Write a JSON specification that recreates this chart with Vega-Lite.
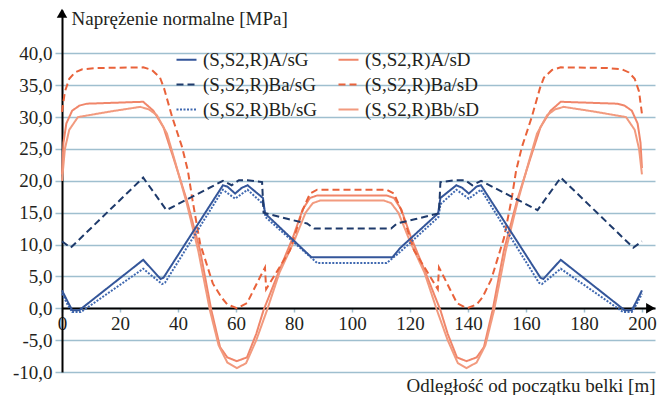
{
  "$schema": "https://vega.github.io/schema/vega-lite/v6.json",
  "width": 593,
  "height": 362,
  "autosize": {"type": "none"},
  "padding": {"left": 62, "top": 10, "right": 2, "bottom": 23},
  "config": {
    "locale": {"number": {"decimal": ",", "thousands": " ", "grouping": [3], "currency": ["", " zł"], "minus": "-"}},
    "view": {"stroke": null},
    "font": "Liberation Serif",
    "axis": {"labelOverlap": false, "labelFlush": false},
    "legend": {
      "orient": "none",
      "legendX": 113,
      "legendY": 38,
      "columns": 2,
      "symbolType": "stroke",
      "symbolSize": 400,
      "symbolStrokeWidth": 2.2,
      "labelFont": "Liberation Serif",
      "labelFontSize": 19,
      "labelColor": "#231f20",
      "labelOffset": 5,
      "rowPadding": 3,
      "columnPadding": 16,
      "labelLimit": 200
    }
  },
  "datasets": {
    "arrowUp": [{"x": 0, "y": 46.3}],
    "arrowRight": [{"x": 203, "y": 0}],
    "series": [
      {"s": "(S,S2,R)A/sD", "x": 0, "y": 21}, {"s": "(S,S2,R)A/sD", "x": 0.5, "y": 26}, {"s": "(S,S2,R)A/sD", "x": 1.5, "y": 29}, {"s": "(S,S2,R)A/sD", "x": 3.5, "y": 31}, {"s": "(S,S2,R)A/sD", "x": 6, "y": 31.8}, {"s": "(S,S2,R)A/sD", "x": 8.6, "y": 32.1}, {"s": "(S,S2,R)A/sD", "x": 28, "y": 32.4}, {"s": "(S,S2,R)A/sD", "x": 31.5, "y": 31}, {"s": "(S,S2,R)A/sD", "x": 35, "y": 28.4}, {"s": "(S,S2,R)A/sD", "x": 38.5, "y": 23.5}, {"s": "(S,S2,R)A/sD", "x": 43, "y": 17}, {"s": "(S,S2,R)A/sD", "x": 47.6, "y": 9.1}, {"s": "(S,S2,R)A/sD", "x": 51.5, "y": -0.3}, {"s": "(S,S2,R)A/sD", "x": 54.5, "y": -6.1}, {"s": "(S,S2,R)A/sD", "x": 57, "y": -7.7}, {"s": "(S,S2,R)A/sD", "x": 60.3, "y": -8.3}, {"s": "(S,S2,R)A/sD", "x": 63.8, "y": -7.7}, {"s": "(S,S2,R)A/sD", "x": 67, "y": -4}, {"s": "(S,S2,R)A/sD", "x": 69.5, "y": -0.3}, {"s": "(S,S2,R)A/sD", "x": 75, "y": 6}, {"s": "(S,S2,R)A/sD", "x": 79.7, "y": 11.2}, {"s": "(S,S2,R)A/sD", "x": 83, "y": 15.5}, {"s": "(S,S2,R)A/sD", "x": 85.5, "y": 17.3}, {"s": "(S,S2,R)A/sD", "x": 88, "y": 17.7}, {"s": "(S,S2,R)A/sD", "x": 112, "y": 17.7}, {"s": "(S,S2,R)A/sD", "x": 114.5, "y": 17.3}, {"s": "(S,S2,R)A/sD", "x": 117, "y": 15.5}, {"s": "(S,S2,R)A/sD", "x": 120.3, "y": 11.2}, {"s": "(S,S2,R)A/sD", "x": 125, "y": 6}, {"s": "(S,S2,R)A/sD", "x": 130.5, "y": -0.3}, {"s": "(S,S2,R)A/sD", "x": 133, "y": -4}, {"s": "(S,S2,R)A/sD", "x": 136.2, "y": -7.7}, {"s": "(S,S2,R)A/sD", "x": 139.5, "y": -8.3}, {"s": "(S,S2,R)A/sD", "x": 143, "y": -7.7}, {"s": "(S,S2,R)A/sD", "x": 145.5, "y": -6.1}, {"s": "(S,S2,R)A/sD", "x": 148.5, "y": -0.3}, {"s": "(S,S2,R)A/sD", "x": 152.4, "y": 9.1}, {"s": "(S,S2,R)A/sD", "x": 157, "y": 17}, {"s": "(S,S2,R)A/sD", "x": 161.5, "y": 23.5}, {"s": "(S,S2,R)A/sD", "x": 165, "y": 28.4}, {"s": "(S,S2,R)A/sD", "x": 168.5, "y": 31}, {"s": "(S,S2,R)A/sD", "x": 172, "y": 32.4}, {"s": "(S,S2,R)A/sD", "x": 191.4, "y": 32.1}, {"s": "(S,S2,R)A/sD", "x": 194, "y": 31.8}, {"s": "(S,S2,R)A/sD", "x": 196.5, "y": 31}, {"s": "(S,S2,R)A/sD", "x": 198.5, "y": 29}, {"s": "(S,S2,R)A/sD", "x": 199.5, "y": 26}, {"s": "(S,S2,R)A/sD", "x": 200, "y": 22},

      {"s": "(S,S2,R)Bb/sD", "x": 0, "y": 20}, {"s": "(S,S2,R)Bb/sD", "x": 1, "y": 25}, {"s": "(S,S2,R)Bb/sD", "x": 2.5, "y": 28}, {"s": "(S,S2,R)Bb/sD", "x": 5.5, "y": 30}, {"s": "(S,S2,R)Bb/sD", "x": 17, "y": 30.9}, {"s": "(S,S2,R)Bb/sD", "x": 27, "y": 31.6}, {"s": "(S,S2,R)Bb/sD", "x": 30, "y": 31.2}, {"s": "(S,S2,R)Bb/sD", "x": 32.7, "y": 30.3}, {"s": "(S,S2,R)Bb/sD", "x": 36.2, "y": 27.4}, {"s": "(S,S2,R)Bb/sD", "x": 39, "y": 23}, {"s": "(S,S2,R)Bb/sD", "x": 43, "y": 16.5}, {"s": "(S,S2,R)Bb/sD", "x": 47, "y": 9}, {"s": "(S,S2,R)Bb/sD", "x": 51, "y": -0.3}, {"s": "(S,S2,R)Bb/sD", "x": 54, "y": -5.8}, {"s": "(S,S2,R)Bb/sD", "x": 57, "y": -8.5}, {"s": "(S,S2,R)Bb/sD", "x": 60.3, "y": -9.4}, {"s": "(S,S2,R)Bb/sD", "x": 63.5, "y": -8.6}, {"s": "(S,S2,R)Bb/sD", "x": 67, "y": -5}, {"s": "(S,S2,R)Bb/sD", "x": 70.7, "y": -0.3}, {"s": "(S,S2,R)Bb/sD", "x": 75, "y": 5.6}, {"s": "(S,S2,R)Bb/sD", "x": 80, "y": 10.5}, {"s": "(S,S2,R)Bb/sD", "x": 84, "y": 15}, {"s": "(S,S2,R)Bb/sD", "x": 86.5, "y": 16.5}, {"s": "(S,S2,R)Bb/sD", "x": 89, "y": 16.9}, {"s": "(S,S2,R)Bb/sD", "x": 111, "y": 16.9}, {"s": "(S,S2,R)Bb/sD", "x": 113.5, "y": 16.5}, {"s": "(S,S2,R)Bb/sD", "x": 116, "y": 15}, {"s": "(S,S2,R)Bb/sD", "x": 120, "y": 10.5}, {"s": "(S,S2,R)Bb/sD", "x": 125, "y": 5.6}, {"s": "(S,S2,R)Bb/sD", "x": 129.3, "y": -0.3}, {"s": "(S,S2,R)Bb/sD", "x": 133, "y": -5}, {"s": "(S,S2,R)Bb/sD", "x": 136.5, "y": -8.6}, {"s": "(S,S2,R)Bb/sD", "x": 139.5, "y": -9.4}, {"s": "(S,S2,R)Bb/sD", "x": 143, "y": -8.5}, {"s": "(S,S2,R)Bb/sD", "x": 146, "y": -5.8}, {"s": "(S,S2,R)Bb/sD", "x": 149, "y": -0.3}, {"s": "(S,S2,R)Bb/sD", "x": 153, "y": 9}, {"s": "(S,S2,R)Bb/sD", "x": 157, "y": 16.5}, {"s": "(S,S2,R)Bb/sD", "x": 161, "y": 23}, {"s": "(S,S2,R)Bb/sD", "x": 163.8, "y": 27.4}, {"s": "(S,S2,R)Bb/sD", "x": 167.3, "y": 30.3}, {"s": "(S,S2,R)Bb/sD", "x": 170, "y": 31.2}, {"s": "(S,S2,R)Bb/sD", "x": 173, "y": 31.6}, {"s": "(S,S2,R)Bb/sD", "x": 183, "y": 30.9}, {"s": "(S,S2,R)Bb/sD", "x": 194.5, "y": 30}, {"s": "(S,S2,R)Bb/sD", "x": 197.5, "y": 28}, {"s": "(S,S2,R)Bb/sD", "x": 199, "y": 25}, {"s": "(S,S2,R)Bb/sD", "x": 200, "y": 21},

      {"s": "(S,S2,R)Ba/sD", "x": 0, "y": 30.8}, {"s": "(S,S2,R)Ba/sD", "x": 1, "y": 34}, {"s": "(S,S2,R)Ba/sD", "x": 2.5, "y": 36}, {"s": "(S,S2,R)Ba/sD", "x": 4.5, "y": 37}, {"s": "(S,S2,R)Ba/sD", "x": 7, "y": 37.5}, {"s": "(S,S2,R)Ba/sD", "x": 12, "y": 37.7}, {"s": "(S,S2,R)Ba/sD", "x": 28, "y": 37.8}, {"s": "(S,S2,R)Ba/sD", "x": 31, "y": 37.4}, {"s": "(S,S2,R)Ba/sD", "x": 33.8, "y": 36.2}, {"s": "(S,S2,R)Ba/sD", "x": 35.2, "y": 34.5}, {"s": "(S,S2,R)Ba/sD", "x": 38, "y": 30}, {"s": "(S,S2,R)Ba/sD", "x": 41.4, "y": 25.3}, {"s": "(S,S2,R)Ba/sD", "x": 43.4, "y": 21.6}, {"s": "(S,S2,R)Ba/sD", "x": 45, "y": 17}, {"s": "(S,S2,R)Ba/sD", "x": 47.6, "y": 10.2}, {"s": "(S,S2,R)Ba/sD", "x": 52, "y": 3.9}, {"s": "(S,S2,R)Ba/sD", "x": 55, "y": 1.7}, {"s": "(S,S2,R)Ba/sD", "x": 57, "y": 0.6}, {"s": "(S,S2,R)Ba/sD", "x": 60.3, "y": 0}, {"s": "(S,S2,R)Ba/sD", "x": 63.8, "y": 0.8}, {"s": "(S,S2,R)Ba/sD", "x": 68.3, "y": 4.9}, {"s": "(S,S2,R)Ba/sD", "x": 70, "y": 6.4}, {"s": "(S,S2,R)Ba/sD", "x": 70.4, "y": 3}, {"s": "(S,S2,R)Ba/sD", "x": 78.6, "y": 9.1}, {"s": "(S,S2,R)Ba/sD", "x": 83, "y": 15.4}, {"s": "(S,S2,R)Ba/sD", "x": 85.5, "y": 18}, {"s": "(S,S2,R)Ba/sD", "x": 88, "y": 18.6}, {"s": "(S,S2,R)Ba/sD", "x": 112, "y": 18.6}, {"s": "(S,S2,R)Ba/sD", "x": 114.5, "y": 18}, {"s": "(S,S2,R)Ba/sD", "x": 117, "y": 15.4}, {"s": "(S,S2,R)Ba/sD", "x": 121.4, "y": 9.1}, {"s": "(S,S2,R)Ba/sD", "x": 129.6, "y": 3}, {"s": "(S,S2,R)Ba/sD", "x": 130, "y": 6.4}, {"s": "(S,S2,R)Ba/sD", "x": 131.7, "y": 4.9}, {"s": "(S,S2,R)Ba/sD", "x": 136.2, "y": 0.8}, {"s": "(S,S2,R)Ba/sD", "x": 139.7, "y": 0}, {"s": "(S,S2,R)Ba/sD", "x": 143, "y": 0.6}, {"s": "(S,S2,R)Ba/sD", "x": 145, "y": 1.7}, {"s": "(S,S2,R)Ba/sD", "x": 148, "y": 4.5}, {"s": "(S,S2,R)Ba/sD", "x": 152.4, "y": 11}, {"s": "(S,S2,R)Ba/sD", "x": 155, "y": 17}, {"s": "(S,S2,R)Ba/sD", "x": 156.6, "y": 21.6}, {"s": "(S,S2,R)Ba/sD", "x": 158.6, "y": 25.3}, {"s": "(S,S2,R)Ba/sD", "x": 162, "y": 30}, {"s": "(S,S2,R)Ba/sD", "x": 164.8, "y": 34.5}, {"s": "(S,S2,R)Ba/sD", "x": 166.2, "y": 36.2}, {"s": "(S,S2,R)Ba/sD", "x": 169, "y": 37.4}, {"s": "(S,S2,R)Ba/sD", "x": 172, "y": 37.8}, {"s": "(S,S2,R)Ba/sD", "x": 188, "y": 37.7}, {"s": "(S,S2,R)Ba/sD", "x": 193, "y": 37.5}, {"s": "(S,S2,R)Ba/sD", "x": 195.5, "y": 37}, {"s": "(S,S2,R)Ba/sD", "x": 197.5, "y": 36}, {"s": "(S,S2,R)Ba/sD", "x": 199, "y": 34}, {"s": "(S,S2,R)Ba/sD", "x": 200, "y": 30.5},

      {"s": "(S,S2,R)Bb/sG", "x": 0, "y": 2.3}, {"s": "(S,S2,R)Bb/sG", "x": 2, "y": 0.5}, {"s": "(S,S2,R)Bb/sG", "x": 3.5, "y": -0.6}, {"s": "(S,S2,R)Bb/sG", "x": 6.5, "y": -0.6}, {"s": "(S,S2,R)Bb/sG", "x": 28, "y": 6.2}, {"s": "(S,S2,R)Bb/sG", "x": 34.5, "y": 3.8}, {"s": "(S,S2,R)Bb/sG", "x": 35.5, "y": 4}, {"s": "(S,S2,R)Bb/sG", "x": 55.5, "y": 18.6}, {"s": "(S,S2,R)Bb/sG", "x": 59.7, "y": 17.2}, {"s": "(S,S2,R)Bb/sG", "x": 64, "y": 18.6}, {"s": "(S,S2,R)Bb/sG", "x": 69.5, "y": 16.3}, {"s": "(S,S2,R)Bb/sG", "x": 70.2, "y": 14.3}, {"s": "(S,S2,R)Bb/sG", "x": 88, "y": 7.1}, {"s": "(S,S2,R)Bb/sG", "x": 112, "y": 7.1}, {"s": "(S,S2,R)Bb/sG", "x": 116, "y": 8.6}, {"s": "(S,S2,R)Bb/sG", "x": 129.8, "y": 14.3}, {"s": "(S,S2,R)Bb/sG", "x": 130.5, "y": 16.3}, {"s": "(S,S2,R)Bb/sG", "x": 136, "y": 18.6}, {"s": "(S,S2,R)Bb/sG", "x": 140.3, "y": 17.2}, {"s": "(S,S2,R)Bb/sG", "x": 144.5, "y": 18.6}, {"s": "(S,S2,R)Bb/sG", "x": 164.5, "y": 4}, {"s": "(S,S2,R)Bb/sG", "x": 165.5, "y": 3.8}, {"s": "(S,S2,R)Bb/sG", "x": 172, "y": 6.2}, {"s": "(S,S2,R)Bb/sG", "x": 193.5, "y": -0.6}, {"s": "(S,S2,R)Bb/sG", "x": 196.5, "y": -0.6}, {"s": "(S,S2,R)Bb/sG", "x": 198, "y": 0.5}, {"s": "(S,S2,R)Bb/sG", "x": 200, "y": 2.3},

      {"s": "(S,S2,R)A/sG", "x": 0, "y": 2.8}, {"s": "(S,S2,R)A/sG", "x": 2, "y": 1}, {"s": "(S,S2,R)A/sG", "x": 3.5, "y": -0.3}, {"s": "(S,S2,R)A/sG", "x": 6, "y": -0.3}, {"s": "(S,S2,R)A/sG", "x": 28, "y": 7.6}, {"s": "(S,S2,R)A/sG", "x": 34, "y": 4.6}, {"s": "(S,S2,R)A/sG", "x": 35, "y": 4.8}, {"s": "(S,S2,R)A/sG", "x": 55.5, "y": 19.3}, {"s": "(S,S2,R)A/sG", "x": 57, "y": 19.1}, {"s": "(S,S2,R)A/sG", "x": 59.7, "y": 18}, {"s": "(S,S2,R)A/sG", "x": 62, "y": 18.9}, {"s": "(S,S2,R)A/sG", "x": 64, "y": 19.3}, {"s": "(S,S2,R)A/sG", "x": 69.3, "y": 17.3}, {"s": "(S,S2,R)A/sG", "x": 70, "y": 14.9}, {"s": "(S,S2,R)A/sG", "x": 86, "y": 8}, {"s": "(S,S2,R)A/sG", "x": 114, "y": 8}, {"s": "(S,S2,R)A/sG", "x": 116.5, "y": 9.4}, {"s": "(S,S2,R)A/sG", "x": 129.7, "y": 14.9}, {"s": "(S,S2,R)A/sG", "x": 130.5, "y": 17.3}, {"s": "(S,S2,R)A/sG", "x": 136, "y": 19.3}, {"s": "(S,S2,R)A/sG", "x": 138, "y": 18.9}, {"s": "(S,S2,R)A/sG", "x": 140.3, "y": 18}, {"s": "(S,S2,R)A/sG", "x": 143, "y": 19.1}, {"s": "(S,S2,R)A/sG", "x": 144.5, "y": 19.3}, {"s": "(S,S2,R)A/sG", "x": 165, "y": 4.8}, {"s": "(S,S2,R)A/sG", "x": 166, "y": 4.6}, {"s": "(S,S2,R)A/sG", "x": 172, "y": 7.6}, {"s": "(S,S2,R)A/sG", "x": 194, "y": -0.3}, {"s": "(S,S2,R)A/sG", "x": 196.5, "y": -0.3}, {"s": "(S,S2,R)A/sG", "x": 198, "y": 1}, {"s": "(S,S2,R)A/sG", "x": 200, "y": 2.8},

      {"s": "(S,S2,R)Ba/sG", "x": 0, "y": 10.5}, {"s": "(S,S2,R)Ba/sG", "x": 3, "y": 9.5}, {"s": "(S,S2,R)Ba/sG", "x": 28, "y": 20.5}, {"s": "(S,S2,R)Ba/sG", "x": 36, "y": 15.4}, {"s": "(S,S2,R)Ba/sG", "x": 55.5, "y": 20}, {"s": "(S,S2,R)Ba/sG", "x": 58.5, "y": 19.3}, {"s": "(S,S2,R)Ba/sG", "x": 61, "y": 20.1}, {"s": "(S,S2,R)Ba/sG", "x": 64, "y": 20.1}, {"s": "(S,S2,R)Ba/sG", "x": 69, "y": 19.8}, {"s": "(S,S2,R)Ba/sG", "x": 69.5, "y": 15}, {"s": "(S,S2,R)Ba/sG", "x": 78, "y": 14}, {"s": "(S,S2,R)Ba/sG", "x": 84.5, "y": 13.3}, {"s": "(S,S2,R)Ba/sG", "x": 87, "y": 12.5}, {"s": "(S,S2,R)Ba/sG", "x": 113.5, "y": 12.5}, {"s": "(S,S2,R)Ba/sG", "x": 115.5, "y": 13.3}, {"s": "(S,S2,R)Ba/sG", "x": 122, "y": 14}, {"s": "(S,S2,R)Ba/sG", "x": 130, "y": 14.9}, {"s": "(S,S2,R)Ba/sG", "x": 130.5, "y": 19.8}, {"s": "(S,S2,R)Ba/sG", "x": 136, "y": 20.1}, {"s": "(S,S2,R)Ba/sG", "x": 139, "y": 20.1}, {"s": "(S,S2,R)Ba/sG", "x": 141.5, "y": 19.3}, {"s": "(S,S2,R)Ba/sG", "x": 144.5, "y": 20}, {"s": "(S,S2,R)Ba/sG", "x": 164, "y": 15.4}, {"s": "(S,S2,R)Ba/sG", "x": 172, "y": 20.5}, {"s": "(S,S2,R)Ba/sG", "x": 197, "y": 9.5}, {"s": "(S,S2,R)Ba/sG", "x": 200, "y": 10.5}
    ]
  },
  "encoding": {
    "x": {
      "field": "x", "type": "quantitative",
      "title": "Odległość od początku belki [m]",
      "scale": {"domain": [0, 204.5], "nice": false},
      "axis": {
        "values": [0, 20, 40, 60, 80, 100, 120, 140, 160, 180, 200],
        "format": "d",
        "offset": -64,
        "grid": false,
        "domainColor": "#000000",
        "domainWidth": 2,
        "tickColor": "#9fbfcf",
        "tickSize": 4,
        "tickWidth": 1.5,
        "labelFont": "Liberation Serif",
        "labelFontSize": 19,
        "labelColor": "#231f20",
        "labelPadding": 2,
        "labelFlush": false,
        "labelOverlap": false,
        "titleX": 593,
        "titleY": 77,
        "titleAlign": "right",
        "titleBaseline": "middle",
        "titleFont": "Liberation Serif",
        "titleFontSize": 19,
        "titleFontWeight": "normal",
        "titleColor": "#231f20"
      }
    },
    "y": {
      "field": "y", "type": "quantitative",
      "title": "Naprężenie normalne [MPa]",
      "scale": {"domain": [-10, 46.8], "nice": false, "zero": false},
      "axis": {
        "values": [-10, -5, 0, 5, 10, 15, 20, 25, 30, 35, 40],
        "format": ".1f",
        "grid": true,
        "gridColor": "#9fbfcf",
        "gridWidth": 1.5,
        "domainColor": "#000000",
        "domainWidth": 2,
        "tickColor": "#9fbfcf",
        "tickSize": 7,
        "tickWidth": 1.5,
        "labelFont": "Liberation Serif",
        "labelFontSize": 19,
        "labelColor": "#231f20",
        "labelPadding": 3,
        "labelOverlap": false,
        "labelFlush": false,
        "titleAngle": 0,
        "titleX": 9,
        "titleY": 8,
        "titleAlign": "left",
        "titleBaseline": "middle",
        "titleFont": "Liberation Serif",
        "titleFontSize": 19,
        "titleFontWeight": "normal",
        "titleColor": "#231f20"
      }
    }
  },
  "layer": [
    {
      "data": {"name": "series"},
      "mark": {"type": "line", "strokeWidth": 2},
      "encoding": {
        "color": {
          "field": "s", "type": "nominal", "title": null,
          "scale": {
            "domain": ["(S,S2,R)A/sG", "(S,S2,R)Ba/sG", "(S,S2,R)Bb/sG", "(S,S2,R)A/sD", "(S,S2,R)Ba/sD", "(S,S2,R)Bb/sD"],
            "range": ["#34569a", "#1e3a6b", "#3f68b0", "#f0866a", "#e9623a", "#f29a7e"]
          }
        },
        "strokeDash": {
          "field": "s", "type": "nominal", "title": null,
          "scale": {
            "domain": ["(S,S2,R)A/sG", "(S,S2,R)Ba/sG", "(S,S2,R)Bb/sG", "(S,S2,R)A/sD", "(S,S2,R)Ba/sD", "(S,S2,R)Bb/sD"],
            "range": [[1, 0], [7, 4], [2, 1.5], [1, 0], [7, 4], [1, 0]]
          }
        }
      }
    },
    {
      "data": {"name": "arrowUp"},
      "mark": {"type": "point", "shape": "triangle-up", "filled": true, "color": "#000000", "size": 110, "opacity": 1}
    },
    {
      "data": {"name": "arrowRight"},
      "mark": {"type": "point", "shape": "triangle-right", "filled": true, "color": "#000000", "size": 110, "opacity": 1}
    }
  ]
}
